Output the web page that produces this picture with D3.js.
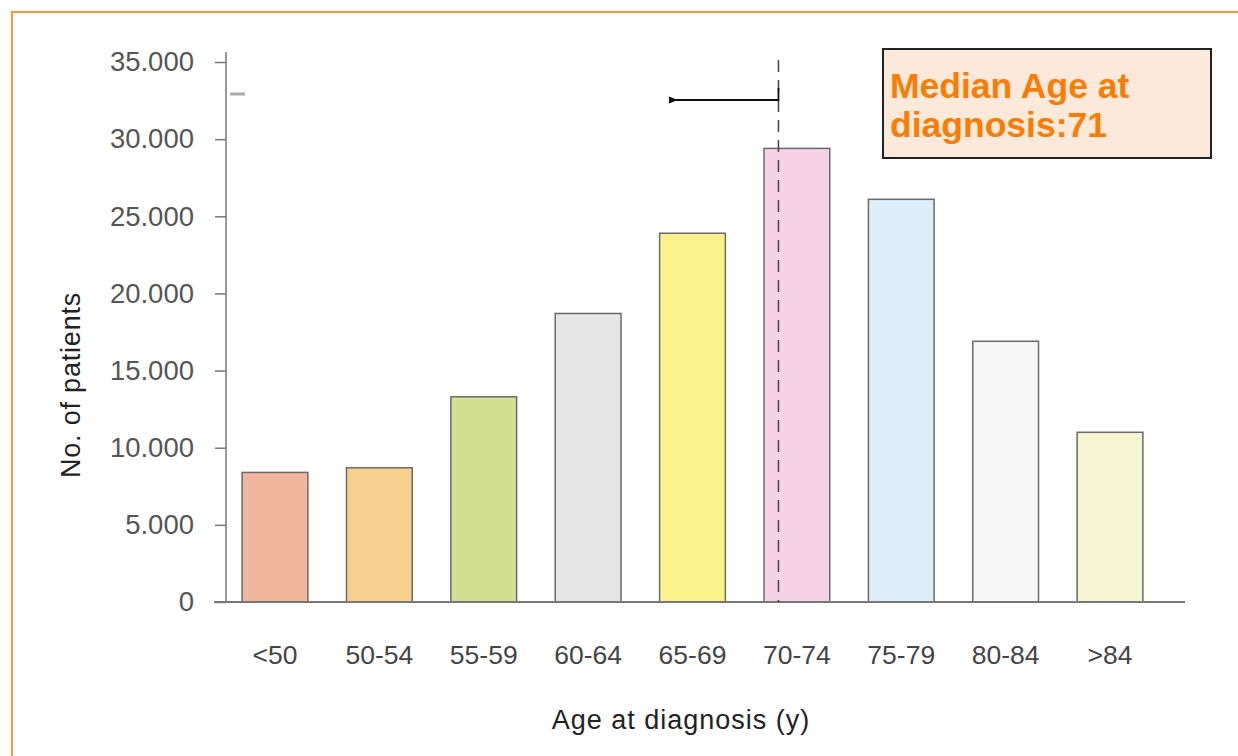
<!DOCTYPE html>
<html>
<head>
<meta charset="utf-8">
<script src="https://cdn.jsdelivr.net/npm/d3@7"></script>
<style>
  html, body { margin: 0; padding: 0; background: #fff; }
  svg { display: block; }
</style>
</head>
<body>
<svg id="chart" width="1238" height="756"></svg>
<script>
// Patients by age group at diagnosis
const categories = ["<50", "50-54", "55-59", "60-64", "65-69", "70-74", "75-79", "80-84", ">84"];
const patients = [8400, 8700, 13300, 18700, 23900, 29400, 26100, 16900, 11000];
const barColors = ["#f2b59d", "#f6d08c", "#d3e094", "#e5e5e5", "#fdf18b", "#f5d2e5", "#dcedf6", "#f6f6f6", "#f5f5d4"];
const yTicks = [0, 5000, 10000, 15000, 20000, 25000, 30000, 35000];
const medianAge = 71;
const medianGroup = "70-74";

const svg = d3.select("#chart");
const font = "'Liberation Sans', Helvetica, Arial, sans-serif";

// Frame
svg.append("path")
  .attr("d", "M12,757 L12,12 L1238,12")
  .attr("fill", "none")
  .attr("stroke", "#f7993a")
  .attr("stroke-width", 2);

const x = d3.scaleBand()
  .domain(categories)
  .range([222.8, 1162.2])
  .paddingInner(0.37)
  .paddingOuter(0.185);

const y = d3.scaleLinear()
  .domain([0, 35000])
  .range([602, 62]);

// Y axis
const yAxis = svg.append("g")
  .attr("transform", "translate(226,0)")
  .call(d3.axisLeft(y).tickValues(yTicks).tickSize(11).tickPadding(21)
    .tickFormat(d => d3.format(",")(d).replace(/,/g, ".")));
yAxis.select(".domain").attr("d", "M0,52V602").attr("stroke", "#777").attr("stroke-width", 1.5);
yAxis.selectAll(".tick line").attr("stroke", "#777").attr("stroke-width", 1.5);
yAxis.selectAll(".tick text")
  .attr("fill", "#555")
  .style("font-family", font)
  .style("font-size", "27.5px");

// Small stray tick near the top
svg.append("line")
  .attr("x1", 230).attr("x2", 245)
  .attr("y1", 94).attr("y2", 94)
  .attr("stroke", "#aaa").attr("stroke-width", 3);

// Bars
svg.append("g").selectAll("rect")
  .data(categories)
  .join("rect")
  .attr("x", d => x(d))
  .attr("y", (d, i) => y(patients[i]))
  .attr("width", x.bandwidth())
  .attr("height", (d, i) => y(0) - y(patients[i]))
  .attr("fill", (d, i) => barColors[i])
  .attr("stroke", "#6a6a6a")
  .attr("stroke-width", 1.5);

// X baseline
svg.append("line")
  .attr("x1", 214).attr("x2", 1185)
  .attr("y1", y(0)).attr("y2", y(0))
  .attr("stroke", "#777").attr("stroke-width", 2);

// X tick labels
const xAxis = svg.append("g")
  .attr("transform", `translate(0,${y(0)})`)
  .call(d3.axisBottom(x).tickSize(0).tickPadding(43));
xAxis.select(".domain").remove();
xAxis.selectAll(".tick text")
  .attr("fill", "#444")
  .style("font-family", font)
  .style("font-size", "26.5px");

// Axis titles
svg.append("text")
  .attr("x", 681).attr("y", 729)
  .attr("text-anchor", "middle")
  .attr("fill", "#222")
  .style("font-family", font)
  .style("font-size", "27px")
  .style("letter-spacing", "1px")
  .text("Age at diagnosis (y)");

svg.append("text")
  .attr("transform", "translate(80,385) rotate(-90)")
  .attr("text-anchor", "middle")
  .attr("fill", "#222")
  .style("font-family", font)
  .style("font-size", "27px")
  .style("letter-spacing", "0.8px")
  .text("No. of patients");

// Median marker: dashed line inside the 70-74 group, at age 71
const groupStart = 70, groupWidth = 5;
const xMedian = x(medianGroup) + x.bandwidth() * (medianAge - groupStart + 0.1) / groupWidth;
svg.append("line")
  .attr("x1", xMedian).attr("x2", xMedian)
  .attr("y1", 60).attr("y2", y(0))
  .attr("stroke", "#444")
  .attr("stroke-width", 1.5)
  .attr("stroke-dasharray", "12,8");

svg.append("defs").append("marker")
  .attr("id", "arrowhead")
  .attr("viewBox", "0 0 10 10")
  .attr("refX", 2).attr("refY", 5)
  .attr("markerWidth", 5).attr("markerHeight", 5)
  .attr("orient", "auto")
  .append("path")
  .attr("d", "M10,1 L0,5 L10,9 Z")
  .attr("fill", "#111");

svg.append("path")
  .attr("d", `M${xMedian},88 V100 H676`)
  .attr("fill", "none")
  .attr("stroke", "#111")
  .attr("stroke-width", 1.8)
  .attr("marker-end", "url(#arrowhead)");

// Annotation box
svg.append("rect")
  .attr("x", 883).attr("y", 49)
  .attr("width", 328).attr("height", 109)
  .attr("fill", "#fde9d9")
  .attr("stroke", "#222")
  .attr("stroke-width", 2);

const note = svg.append("text")
  .attr("fill", "#f97c05")
  .style("font-family", font)
  .style("font-size", "35.5px")
  .style("font-weight", "bold");
note.append("tspan").attr("x", 890).attr("y", 98).text("Median Age at");
note.append("tspan").attr("x", 890).attr("y", 137).text("diagnosis:" + medianAge);
</script>
</body>
</html>
